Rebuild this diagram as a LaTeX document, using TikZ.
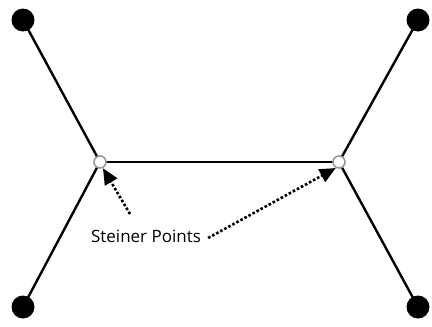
\documentclass[tikz,border=0pt]{standalone}
\usepackage{fontspec}
\setmainfont{Open Sans}
\usetikzlibrary{arrows.meta}
\begin{document}
\begin{tikzpicture}[x=1pt,y=-1pt,
  term/.style={circle,fill=black,inner sep=0pt,minimum size=23pt},
  steinerpt/.style={circle,draw=gray!80,fill=white,line width=1.6pt,inner sep=0pt,minimum size=12pt},
  edge/.style={line width=2.4pt},
  pointer/.style={line width=2.6pt,dotted,-{Triangle[length=16pt,width=14pt]}}]
\useasboundingbox (0,0) rectangle (432,327);
\coordinate (s1) at (100,162);
\coordinate (s2) at (339,162);
\node[term] (a) at (23,20) {};
\node[term] (b) at (418,20) {};
\node[term] (c) at (23,307) {};
\node[term] (d) at (418,307) {};
\draw[edge] (a.center) -- (s1) -- (c.center);
\draw[edge] (b.center) -- (s2) -- (d.center);
\draw[edge] (s1) -- (s2);
\node[steinerpt] (p1) at (s1) {};
\node[steinerpt] (p2) at (s2) {};
\node[font=\fontsize{17}{19}\selectfont,inner sep=1pt] (lbl) at (146,236) {Steiner Points};
\coordinate (l1) at (130,214);
\coordinate (lt) at (104,170);
\coordinate (rt) at (334,169);
\draw[pointer,shorten >=-2pt] (l1) -- (lt);
\draw[pointer,shorten >=-2pt] ([xshift=6pt,yshift=-2pt]lbl.east) -- (rt);
\end{tikzpicture}
\end{document}
